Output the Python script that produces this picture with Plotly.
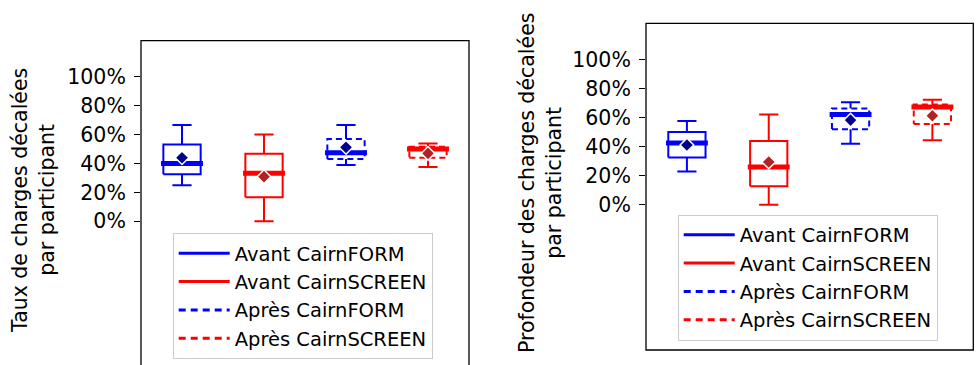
import plotly.graph_objects as go

# ---------------- data ----------------
groups = ["Avant CairnFORM", "Avant CairnSCREEN", "Après CairnFORM", "Après CairnSCREEN"]

taux_whislo = [0.25, 0.00, 0.39, 0.376]
taux_q1 = [0.325, 0.166, 0.431, 0.44]
taux_med = [0.40, 0.333, 0.474, 0.50]
taux_q3 = [0.532, 0.468, 0.569, 0.516]
taux_whishi = [0.666, 0.60, 0.666, 0.539]
taux_mean = [0.44, 0.309, 0.512, 0.47]

prof_whislo = [0.229, 0.0, 0.421, 0.444]
prof_q1 = [0.325, 0.128, 0.52, 0.556]
prof_med = [0.426, 0.261, 0.622, 0.673]
prof_q3 = [0.501, 0.439, 0.664, 0.691]
prof_whishi = [0.577, 0.622, 0.707, 0.723]
prof_mean = [0.412, 0.295, 0.583, 0.613]

tick_vals = [0, 0.2, 0.4, 0.6, 0.8, 1.0]
tick_text = ["0%", "20%", "40%", "60%", "80%", "100%"]

title_left = "Taux de charges décalées<br>par participant"
title_right = "Profondeur des charges décalées<br>par participant"

# ---------------- styles ----------------
line_colors = ["#0000ff", "#ff0000", "#0000ff", "#ff0000"]
mean_colors = ["#00008b", "#b22222", "#00008b", "#b22222"]
box_dash = ["solid", "solid", "6px,4px", "6px,4px"]
legend_dash = ["solid", "solid", "7px,5px", "7px,5px"]

W = 976
H = 365
FONT = "DejaVu Sans"


def PX(px):
    return px / W


def PY(py):
    return (H - py) / H


BOX_HALF = 0.2275
MED_HALF = 0.256
CAP_HALF = 0.117

fig = go.Figure()


def add_panel(xa, ya, legend_name, lo, q1, med, q3, hi, mean):
    for i, g in enumerate(groups):
        p = i + 1
        c = line_colors[i]
        fig.add_trace(go.Scatter(
            x=[p - BOX_HALF, p + BOX_HALF, p + BOX_HALF, p - BOX_HALF, p - BOX_HALF],
            y=[q1[i], q1[i], q3[i], q3[i], q1[i]],
            mode="lines", line=dict(color=c, width=2, dash=box_dash[i]),
            xaxis=xa, yaxis=ya, showlegend=False, hoverinfo="skip"))
        fig.add_trace(go.Scatter(
            x=[p, p, None, p, p, None, p - CAP_HALF, p + CAP_HALF, None, p - CAP_HALF, p + CAP_HALF],
            y=[q1[i], lo[i], None, q3[i], hi[i], None, lo[i], lo[i], None, hi[i], hi[i]],
            mode="lines", line=dict(color=c, width=2),
            xaxis=xa, yaxis=ya, showlegend=False, hoverinfo="skip"))
        fig.add_trace(go.Scatter(
            x=[p - MED_HALF, p + MED_HALF], y=[med[i], med[i]],
            mode="lines", line=dict(color=c, width=5),
            xaxis=xa, yaxis=ya, showlegend=False, hoverinfo="skip"))
        fig.add_trace(go.Scatter(
            x=[p], y=[mean[i]], mode="markers",
            marker=dict(symbol="diamond", size=10.5, color=mean_colors[i],
                        line=dict(color="white", width=1.5)),
            xaxis=xa, yaxis=ya, showlegend=False, hoverinfo="skip"))
    for i, g in enumerate(groups):
        fig.add_trace(go.Scatter(
            x=[None], y=[None], mode="lines", name=g,
            line=dict(color=line_colors[i], width=3, dash=legend_dash[i]),
            xaxis=xa, yaxis=ya, legend=legend_name, showlegend=True))


add_panel("x", "y", "legend", taux_whislo, taux_q1, taux_med, taux_q3, taux_whishi, taux_mean)
add_panel("x2", "y2", "legend2", prof_whislo, prof_q1, prof_med, prof_q3, prof_whishi, prof_mean)

axis_common_x = dict(range=[0.5, 4.5], showgrid=False, zeroline=False,
                     showticklabels=False, ticks="", showline=False, fixedrange=True)
axis_common_y = dict(showgrid=False, zeroline=False, showline=False,
                     tickmode="array", tickvals=tick_vals, ticktext=tick_text,
                     ticks="outside", ticklen=6, tickwidth=1.3, tickcolor="black",
                     tickfont=dict(family=FONT, size=20.5, color="black"),
                     ticklabelstandoff=4, fixedrange=True)

legend_common = dict(xanchor="left", yanchor="top",
                     bgcolor="rgba(255,255,255,0.8)", bordercolor="#cccccc", borderwidth=1,
                     font=dict(family=FONT, size=19.5, color="black"), itemwidth=51,
                     tracegroupgap=0)

fig.update_layout(
    width=W, height=H,
    margin=dict(l=0, r=0, t=0, b=0),
    paper_bgcolor="white", plot_bgcolor="white",
    font=dict(family=FONT, size=20, color="black"),
    xaxis=dict(domain=[PX(141), PX(469)], anchor="y", **axis_common_x),
    yaxis=dict(domain=[0, PY(40.7)], range=[-0.9945, 1.25], anchor="x", **axis_common_y),
    xaxis2=dict(domain=[PX(646), PX(973.3)], anchor="y2", **axis_common_x),
    yaxis2=dict(domain=[PY(350), PY(23.3)], range=[-1.0, 1.25], anchor="x2", **axis_common_y),
    legend=dict(x=PX(172.7), y=PY(233), **legend_common),
    legend2=dict(x=PX(677.7), y=PY(214.5), **legend_common),
    shapes=[
        dict(type="rect", xref="x domain", yref="y domain", x0=0, x1=1, y0=-0.02, y1=1,
             line=dict(color="black", width=1.3), layer="above"),
        dict(type="rect", xref="x2 domain", yref="y2 domain", x0=0, x1=1, y0=0, y1=1,
             line=dict(color="black", width=1.3), layer="above"),
    ],
    annotations=[
        dict(text=title_left, xref="paper", yref="paper", x=PX(33), y=PY(201),
             xanchor="center", yanchor="middle", textangle=-90, showarrow=False,
             font=dict(family=FONT, size=20.5, color="black")),
        dict(text=title_right, xref="paper", yref="paper", x=PX(540), y=PY(183),
             xanchor="center", yanchor="middle", textangle=-90, showarrow=False,
             font=dict(family=FONT, size=20.5, color="black")),
    ],
)

fig.write_html(
    "out.html",
    config={"displayModeBar": False, "staticPlot": True},
    post_script="document.body.style.margin='0';document.body.style.overflow='hidden';",
)
